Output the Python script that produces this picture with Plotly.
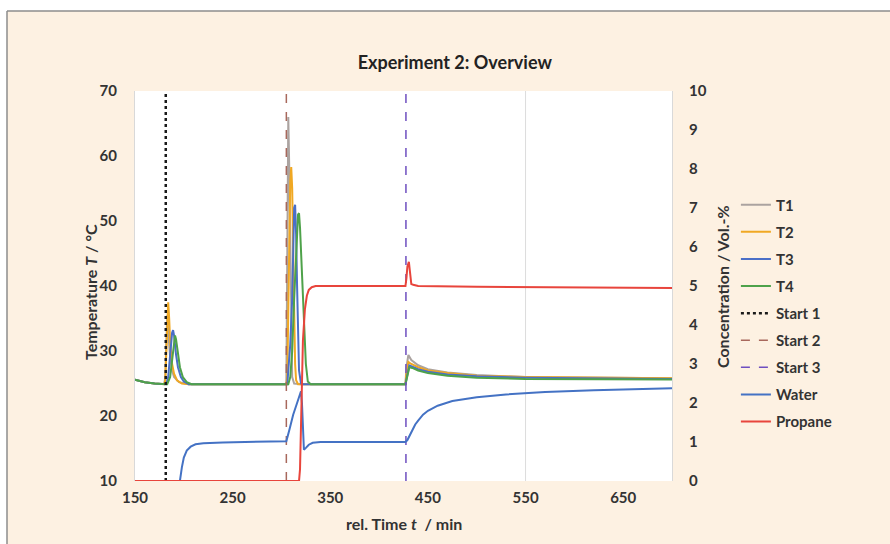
import plotly.graph_objects as go

# ---------------- data ----------------
t1_t = [150, 160, 170, 180, 181, 182, 183, 184, 186, 188, 190, 195, 205, 305, 306, 307, 308, 309, 310, 311, 313, 320,
        427, 428, 430, 433, 440, 450, 470, 500, 550, 600, 700]
t1_v = [25.6, 25.2, 25.0, 24.9, 26.0, 33.0, 35.5, 33.0, 29.0, 27.0, 26.0, 25.2, 24.9, 24.9, 40.0, 66.0, 58.0, 45.0, 32.0, 26.0, 25.0, 24.9,
        24.9, 27.5, 29.4, 28.6, 27.8, 27.2, 26.7, 26.3, 26.0, 25.9, 25.8]

t2_t = [150, 160, 170, 180, 181, 182, 183, 184, 185, 186, 188, 190, 193, 198, 205, 305, 306, 307, 308, 309, 310, 311, 312, 313, 314, 315, 317,
        427, 428, 430, 433, 440, 450, 470, 500, 550, 600, 700]
t2_v = [25.6, 25.2, 25.0, 24.9, 25.5, 30.0, 35.5, 37.5, 35.0, 31.5, 28.0, 26.5, 25.5, 25.0, 24.9, 24.9, 26.0, 35.0, 48.0, 56.0, 58.3, 55.0, 45.0, 35.0, 28.0, 25.5, 24.9,
        24.9, 26.5, 28.3, 28.0, 27.5, 27.0, 26.6, 26.2, 26.0, 25.9, 25.8]

t3_t = [150, 160, 170, 182, 184, 186, 188, 189, 190, 192, 194, 197, 200, 205, 306, 307, 309, 311, 312, 313, 314, 315, 316, 317, 318, 320, 322,
        427, 429, 431, 434, 440, 450, 470, 500, 550, 700]
t3_v = [25.6, 25.2, 25.0, 24.9, 26.0, 30.0, 32.8, 33.2, 32.4, 29.5, 27.5, 26.0, 25.3, 24.9, 24.9, 27.0, 31.0, 38.0, 45.0, 52.0, 52.5, 48.0, 40.0, 32.0, 27.0, 25.0, 24.9,
        24.9, 26.5, 27.8, 27.6, 27.2, 26.8, 26.4, 26.1, 25.9, 25.7]

t4_t = [150, 160, 170, 183, 186, 188, 190, 191, 192, 194, 196, 199, 203, 208, 307, 309, 311, 313, 315, 317, 318, 319, 321, 323, 325, 327, 330,
        427, 429, 431, 434, 440, 450, 470, 500, 550, 700]
t4_v = [25.6, 25.2, 25.0, 24.9, 26.0, 29.0, 31.8, 32.4, 31.8, 29.5, 27.5, 26.0, 25.2, 24.9, 24.9, 26.0, 30.0, 38.0, 46.0, 51.0, 51.2, 49.0, 42.0, 34.0, 28.0, 25.3, 24.9,
        24.9, 26.0, 27.5, 27.4, 27.0, 26.6, 26.2, 25.9, 25.7, 25.6]

start_times = [181.5, 305.0, 427.5]
start_names = ["Start 1", "Start 2", "Start 3"]
temp_span = [10, 70]

water_t = [150, 196, 198, 200, 203, 207, 212, 220, 240, 300, 305, 308, 312, 316, 320, 321, 322, 323, 325, 328, 332, 340, 380,
           427, 429, 431, 434, 437, 440, 445, 450, 460, 475, 500, 530, 570, 620, 700]
water_v = [0.0, 0.0, 0.35, 0.6, 0.78, 0.88, 0.94, 0.97, 0.99, 1.0, 1.02, 1.3, 1.7, 2.0, 2.3, 2.0, 1.2, 0.8, 0.85, 0.93, 0.98, 1.0, 1.0,
           1.0, 1.05, 1.15, 1.3, 1.45, 1.55, 1.7, 1.8, 1.93, 2.05, 2.15, 2.22, 2.28, 2.33, 2.38]

propane_t = [150, 318, 319, 320, 321, 322, 324, 326, 328, 331, 335, 345, 380, 427, 428, 429, 430.5, 431, 432, 433, 435, 440, 500, 600, 700]
propane_v = [0.0, 0.0, 0.3, 1.2, 2.5, 3.6, 4.4, 4.75, 4.9, 4.97, 5.0, 5.0, 5.0, 5.0, 5.2, 5.5, 5.62, 5.5, 5.2, 5.05, 5.03, 5.0, 4.98, 4.96, 4.95]

x_ticks = [150, 250, 350, 450, 550, 650]

# ---------------- styling ----------------
FONT = "Lato"
TXT = "#333333"
CREAM = "#FDF1E2"

fig = go.Figure()

temps = [("T1", t1_t, t1_v, "#ABA3A0"), ("T2", t2_t, t2_v, "#F0A823"),
         ("T3", t3_t, t3_v, "#4A6FC7"), ("T4", t4_t, t4_v, "#4EA24A")]
for name, tt, vv, col in temps:
    fig.add_trace(go.Scatter(x=tt, y=vv, mode="lines", name=name, legendgroup=name,
                             line=dict(color=col, width=2)))

start_styles = [("#1A1A1A", "dot", 2.5), ("#A8685C", "dash", 1.5), ("#6E4FC0", "dash", 1.5)]
for st, nm, (col, dash, w) in zip(start_times, start_names, start_styles):
    fig.add_trace(go.Scatter(x=[st, st], y=temp_span, mode="lines", name=nm, legendgroup=nm,
                             line=dict(color=col, dash=dash, width=w)))

fig.add_trace(go.Scatter(x=water_t, y=water_v, mode="lines", name="Water", legendgroup="Water",
                         yaxis="y2", line=dict(color="#4472C4", width=2)))
fig.add_trace(go.Scatter(x=propane_t, y=propane_v, mode="lines", name="Propane", legendgroup="Propane",
                         yaxis="y2", line=dict(color="#E8453C", width=2)))

axfont = dict(family=FONT, size=15, color=TXT, weight="bold")

fig.update_layout(
    width=890, height=544,
    margin=dict(l=135, r=218, t=91, b=63),
    paper_bgcolor=CREAM, plot_bgcolor="white",
    font=dict(family=FONT, size=15, color=TXT),
    showlegend=True,
    legend=dict(x=1.119, y=0.750, xanchor="left", yanchor="top", bgcolor="rgba(0,0,0,0)",
                font=dict(family=FONT, size=15, color=TXT, weight="bold"), tracegroupgap=4.6),
    title=dict(text="Experiment 2: Overview", x=0.511, y=1 - 63 / 544, xanchor="center", yanchor="middle",
               font=dict(family=FONT, size=18, color="#222222", weight="bold")),
    xaxis=dict(range=[150, 700], tickvals=x_ticks, showgrid=False, zeroline=False, showline=False,
               tickfont=axfont, ticks="", ticklabelstandoff=6),
    yaxis=dict(range=[10, 70], dtick=10, showgrid=False, zeroline=False, showline=True, linecolor="#D9D9D9",
               tickfont=axfont, ticks="", ticklabelstandoff=14),
    yaxis2=dict(range=[0, 10], dtick=1, overlaying="y", side="right", showgrid=False, zeroline=False,
                showline=True, linecolor="#D9D9D9", tickfont=axfont, ticks="", ticklabelstandoff=13),
)

# faint vertical gridline
fig.add_shape(type="line", xref="x", yref="paper", x0=550, x1=550, y0=0, y1=1,
              line=dict(color="#DCDCDC", width=1), layer="below")

# outer frame (white strip + gray border at top/left)
fx = (7 - 135) / 537
fy = (481 - 11) / 390
fig.add_shape(type="rect", xref="paper", yref="paper", x0=-0.5, x1=1.6, y0=fy, y1=1.5,
              fillcolor="white", line=dict(width=0))
fig.add_shape(type="rect", xref="paper", yref="paper", x0=-0.5, x1=fx, y0=-0.5, y1=1.5,
              fillcolor="white", line=dict(width=0))
fig.add_shape(type="line", xref="paper", yref="paper", x0=fx, x1=1.6, y0=fy, y1=fy,
              line=dict(color="#8C8C8C", width=1.5))
fig.add_shape(type="line", xref="paper", yref="paper", x0=fx, x1=fx, y0=-0.5, y1=fy,
              line=dict(color="#8C8C8C", width=1.5))

# axis titles
titlefont = dict(family=FONT, size=16, color=TXT, weight="bold")
fig.add_annotation(text="Temperature <i>T</i> / °C", xref="paper", yref="paper",
                   x=(90 - 135) / 537, y=(481 - 292) / 390, textangle=-90, showarrow=False,
                   xanchor="center", yanchor="middle", font=titlefont)
fig.add_annotation(text="Concentration / Vol.-%", xref="paper", yref="paper",
                   x=(722 - 135) / 537, y=(481 - 287) / 390, textangle=-90, showarrow=False,
                   xanchor="center", yanchor="middle", font=titlefont)
fig.add_annotation(text="rel. Time <i>t</i>  / min", xref="paper", yref="paper",
                   x=(404 - 135) / 537, y=(481 - 523) / 390, showarrow=False,
                   xanchor="center", yanchor="middle", font=titlefont)

fig.write_html("out.html")
